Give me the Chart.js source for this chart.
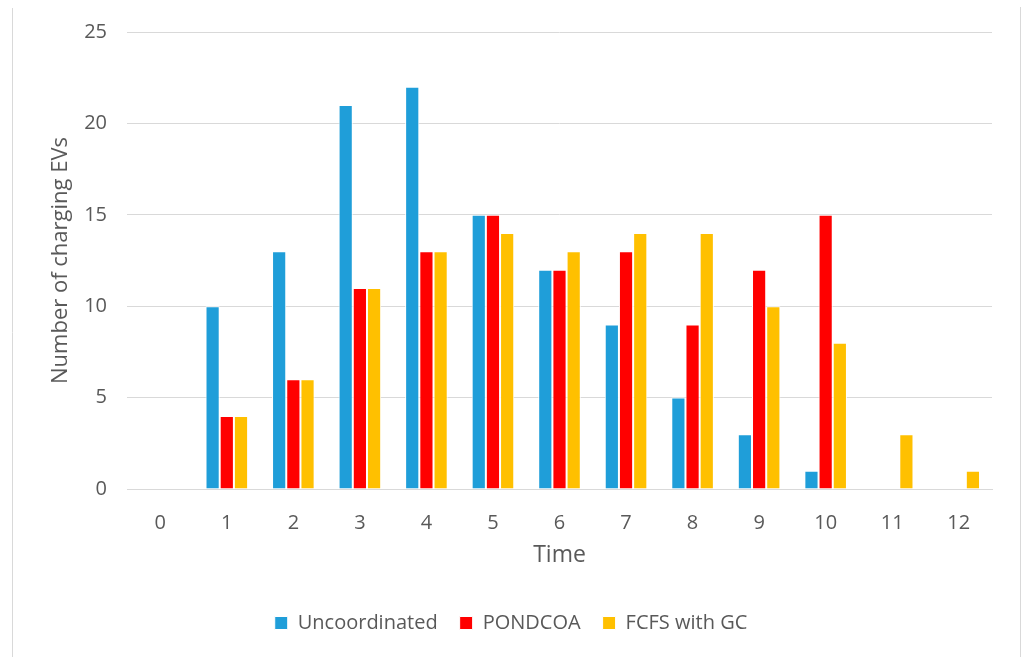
<!DOCTYPE html>
<html>
<head>
<meta charset="utf-8">
<script src="https://cdn.jsdelivr.net/npm/chart.js@4.4.1/dist/chart.umd.min.js"></script>
<style>
  html, body { margin: 0; padding: 0; background: #fff; }
  #wrap { width: 1024px; height: 657px; position: relative; }
</style>
</head>
<body>
<div id="wrap"><canvas id="evChart" width="1024" height="657"></canvas></div>
<script>
// data
const timeLabels = ["0", "1", "2", "3", "4", "5", "6", "7", "8", "9", "10", "11", "12"];
const uncoordinated = [0, 10, 13, 21, 22, 15, 12, 9, 5, 3, 1, 0, 0];
const pondcoa = [0, 4, 6, 11, 13, 15, 12, 13, 9, 12, 15, 0, 0];
const fcfsWithGc = [0, 4, 6, 11, 13, 14, 13, 14, 14, 10, 8, 3, 1];

const textColor = "#595959";
const fontFamily = "'Open Sans', 'Liberation Sans', sans-serif";

// thin frame lines left and right like the original picture
const framePlugin = {
    id: "frame",
    afterDraw(chart) {
        const ctx = chart.ctx;
        ctx.save();
        ctx.strokeStyle = "#d9d9d9";
        ctx.lineWidth = 1;
        ctx.beginPath();
        ctx.moveTo(12.5, 8);
        ctx.lineTo(12.5, 657);
        ctx.moveTo(1020.5, 7);
        ctx.lineTo(1020.5, 657);
        ctx.stroke();
        ctx.restore();
    }
};

let datasets = [
    { label: "Uncoordinated", data: uncoordinated, backgroundColor: "#1f9ed9" },
    { label: "PONDCOA", data: pondcoa, backgroundColor: "#ff0000" },
    { label: "FCFS with GC", data: fcfsWithGc, backgroundColor: "#ffc000" }
].map(d => Object.assign(d, {
    type: "bar",
    borderColor: "#ffffff",
    borderWidth: 1,
    borderSkipped: "bottom",
    categoryPercentage: 0.64,
    barPercentage: 1.0
}));

const evChart = new Chart(document.getElementById("evChart"), {
    data: { labels: timeLabels, datasets: datasets },
    options: {
        responsive: false,
        animation: false,
        layout: { padding: { left: 30, right: 32, top: 32, bottom: 14 } },
        plugins: {
            tooltip: { enabled: false },
            legend: {
                position: "bottom",
                labels: {
                    color: textColor,
                    font: { family: fontFamily, size: 20 },
                    boxWidth: 13,
                    boxHeight: 13,
                    padding: 22
                }
            }
        },
        scales: {
            x: {
                grid: { display: false, drawTicks: false },
                border: { color: "#d9d9d9" },
                ticks: { color: textColor, font: { family: fontFamily, size: 20 }, padding: 22 },
                title: {
                    display: true,
                    text: "Time",
                    color: textColor,
                    font: { family: fontFamily, size: 23 },
                    padding: { top: 4, bottom: 22 }
                },
                afterFit: (s) => { s.height = 102; }
            },
            y: {
                min: 0,
                max: 25,
                ticks: { stepSize: 5, color: textColor, font: { family: fontFamily, size: 20 }, padding: 20 },
                grid: { color: "#d9d9d9", drawTicks: false },
                border: { display: false },
                title: {
                    display: true,
                    text: "Number of charging EVs",
                    color: textColor,
                    font: { family: fontFamily, size: 22 },
                    padding: { top: 18, bottom: 8 }
                },
                afterFit: (s) => { s.width = 97; }
            }
        }
    },
    plugins: [framePlugin]
});
</script>
</body>
</html>
